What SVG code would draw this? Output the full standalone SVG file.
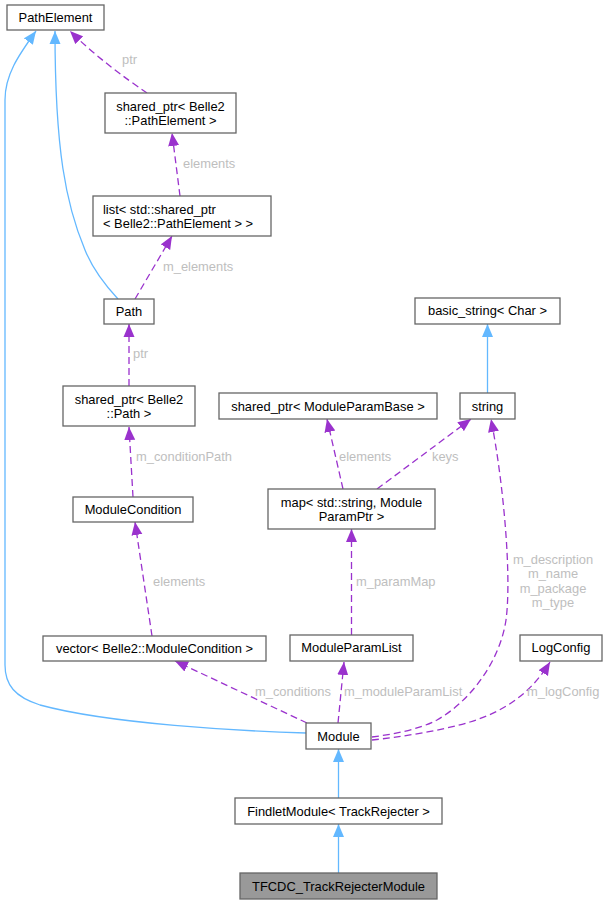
<svg xmlns="http://www.w3.org/2000/svg" width="607" height="904" viewBox="0 0 607 904">
<defs>
<style>
.n rect{fill:#ffffff;stroke:#666666;stroke-width:1.3}
.n text,.lbl{font-family:"Liberation Sans",Arial,sans-serif;font-size:12.9px}
.n text{fill:#000000;text-anchor:middle}
.lbl{fill:#bebebe}
.inh{fill:none;stroke:#63b8ff;stroke-width:1.3}
.use{fill:none;stroke:#9a32cd;stroke-width:1.3;stroke-dasharray:7,4}
</style>
<marker id="ab" markerUnits="userSpaceOnUse" markerWidth="14" markerHeight="12" refX="13" refY="5.5" orient="auto" viewBox="0 0 14 11"><path d="M0,0 L13,5.5 L0,11 z" fill="#63b8ff"/></marker>
<marker id="ap" markerUnits="userSpaceOnUse" markerWidth="14" markerHeight="12" refX="13" refY="5.5" orient="auto" viewBox="0 0 14 11"><path d="M0,0 L13,5.5 L0,11 z" fill="#9a32cd"/></marker>
</defs>
<rect width="607" height="904" fill="#ffffff"/>
<g id="edges">
<path class="inh" marker-end="url(#ab)" d="M306,733 C240,731 110,724 40,705 C15,697 5,685 5,665 L5,100 C5,75 18,56 36,31"/>
<path class="inh" marker-end="url(#ab)" d="M118,299 C105,285 93,270 85,250 C66,205 55,150 55,31"/>
<path class="use" marker-end="url(#ap)" d="M147,93 C125,78 95,56 70,31"/>
<text class="lbl" x="122" y="64">ptr</text>
<path class="use" marker-end="url(#ap)" d="M180,196 L172,133"/>
<text class="lbl" x="183" y="168">elements</text>
<path class="use" marker-end="url(#ap)" d="M135,299 L172,236"/>
<text class="lbl" x="163" y="271">m_elements</text>
<path class="use" marker-end="url(#ap)" d="M129,386 L129,324"/>
<text class="lbl" x="133" y="358">ptr</text>
<path class="use" marker-end="url(#ap)" d="M133,497 L129,427"/>
<text class="lbl" x="136" y="461">m_conditionPath</text>
<path class="use" marker-end="url(#ap)" d="M152,636 L135,522"/>
<text class="lbl" x="153" y="586">elements</text>
<path class="use" marker-end="url(#ap)" d="M307,723 L175,661"/>
<text class="lbl" x="255" y="696">m_conditions</text>
<path class="use" marker-end="url(#ap)" d="M338,723 L344,662"/>
<text class="lbl" x="344" y="696">m_moduleParamList</text>
<path class="use" marker-end="url(#ap)" d="M351.5,635 L351.5,529"/>
<text class="lbl" x="356" y="586">m_paramMap</text>
<path class="use" marker-end="url(#ap)" d="M343,489 L327,419"/>
<text class="lbl" x="339" y="461">elements</text>
<path class="use" marker-end="url(#ap)" d="M377,489 L471,419"/>
<text class="lbl" x="432" y="461">keys</text>
<path class="use" marker-end="url(#ap)" d="M372,737 C395,734 420,729 437,720 C472,700 500,660 506,620 C512,575 503,480 491,419"/>
<text class="lbl" text-anchor="middle" x="553" y="564">m_description</text>
<text class="lbl" text-anchor="middle" x="553" y="578">m_name</text>
<text class="lbl" text-anchor="middle" x="553" y="593">m_package</text>
<text class="lbl" text-anchor="middle" x="553" y="607">m_type</text>
<path class="use" marker-end="url(#ap)" d="M372,740 C400,737 440,731 470,722 C502,712 530,695 550,662"/>
<text class="lbl" x="527" y="696">m_logConfig</text>
<path class="inh" marker-end="url(#ab)" d="M338.5,798 L338.5,749"/>
<path class="inh" marker-end="url(#ab)" d="M338.5,873 L338.5,824"/>
<path class="inh" marker-end="url(#ab)" d="M487.5,393 L487.5,324"/>
</g>
<g id="PathElement" class="n"><rect x="7" y="5" width="97" height="25"/><text x="55.5" y="22">PathElement</text></g>
<g id="shared_ptr_PathElement" class="n"><rect x="105" y="93" width="131" height="40"/><text x="170.5" y="111">shared_ptr&lt; Belle2</text><text x="170.5" y="125">::PathElement &gt;</text></g>
<g id="list_shared_ptr" class="n"><rect x="93" y="196" width="178" height="40"/><text x="103" y="214" style="text-anchor:start">list&lt; std::shared_ptr</text><text x="103" y="228" style="text-anchor:start">&lt; Belle2::PathElement &gt; &gt;</text></g>
<g id="Path" class="n"><rect x="104" y="299" width="50" height="25"/><text x="129" y="316">Path</text></g>
<g id="shared_ptr_Path" class="n"><rect x="63" y="386" width="132" height="40"/><text x="129" y="404">shared_ptr&lt; Belle2</text><text x="129" y="418">::Path &gt;</text></g>
<g id="ModuleCondition" class="n"><rect x="73" y="497" width="120" height="25"/><text x="133" y="514">ModuleCondition</text></g>
<g id="vector_ModuleCondition" class="n"><rect x="43" y="636" width="223" height="25"/><text x="154.5" y="653">vector&lt; Belle2::ModuleCondition &gt;</text></g>
<g id="basic_string" class="n"><rect x="415" y="298" width="145" height="26"/><text x="487.5" y="315">basic_string&lt; Char &gt;</text></g>
<g id="shared_ptr_ModuleParamBase" class="n"><rect x="219" y="393" width="218" height="26"/><text x="328" y="410.5">shared_ptr&lt; ModuleParamBase &gt;</text></g>
<g id="string" class="n"><rect x="460" y="393" width="55" height="26"/><text x="487.5" y="410.5">string</text></g>
<g id="map" class="n"><rect x="268" y="489" width="167" height="40"/><text x="351.5" y="507">map&lt; std::string, Module</text><text x="351.5" y="521">ParamPtr &gt;</text></g>
<g id="ModuleParamList" class="n"><rect x="290" y="635" width="123" height="26"/><text x="351.5" y="652">ModuleParamList</text></g>
<g id="LogConfig" class="n"><rect x="520" y="635" width="82" height="26"/><text x="561" y="652">LogConfig</text></g>
<g id="Module" class="n"><rect x="306" y="723" width="65" height="26"/><text x="338.5" y="740.5">Module</text></g>
<g id="FindletModule" class="n"><rect x="235" y="798" width="207" height="26"/><text x="338.5" y="815.5">FindletModule&lt; TrackRejecter &gt;</text></g>
<g id="TFCDC_TrackRejecterModule" class="n"><rect x="240" y="873" width="197" height="26" style="fill:#999999"/><text x="338.5" y="890.5">TFCDC_TrackRejecterModule</text></g>
</svg>
